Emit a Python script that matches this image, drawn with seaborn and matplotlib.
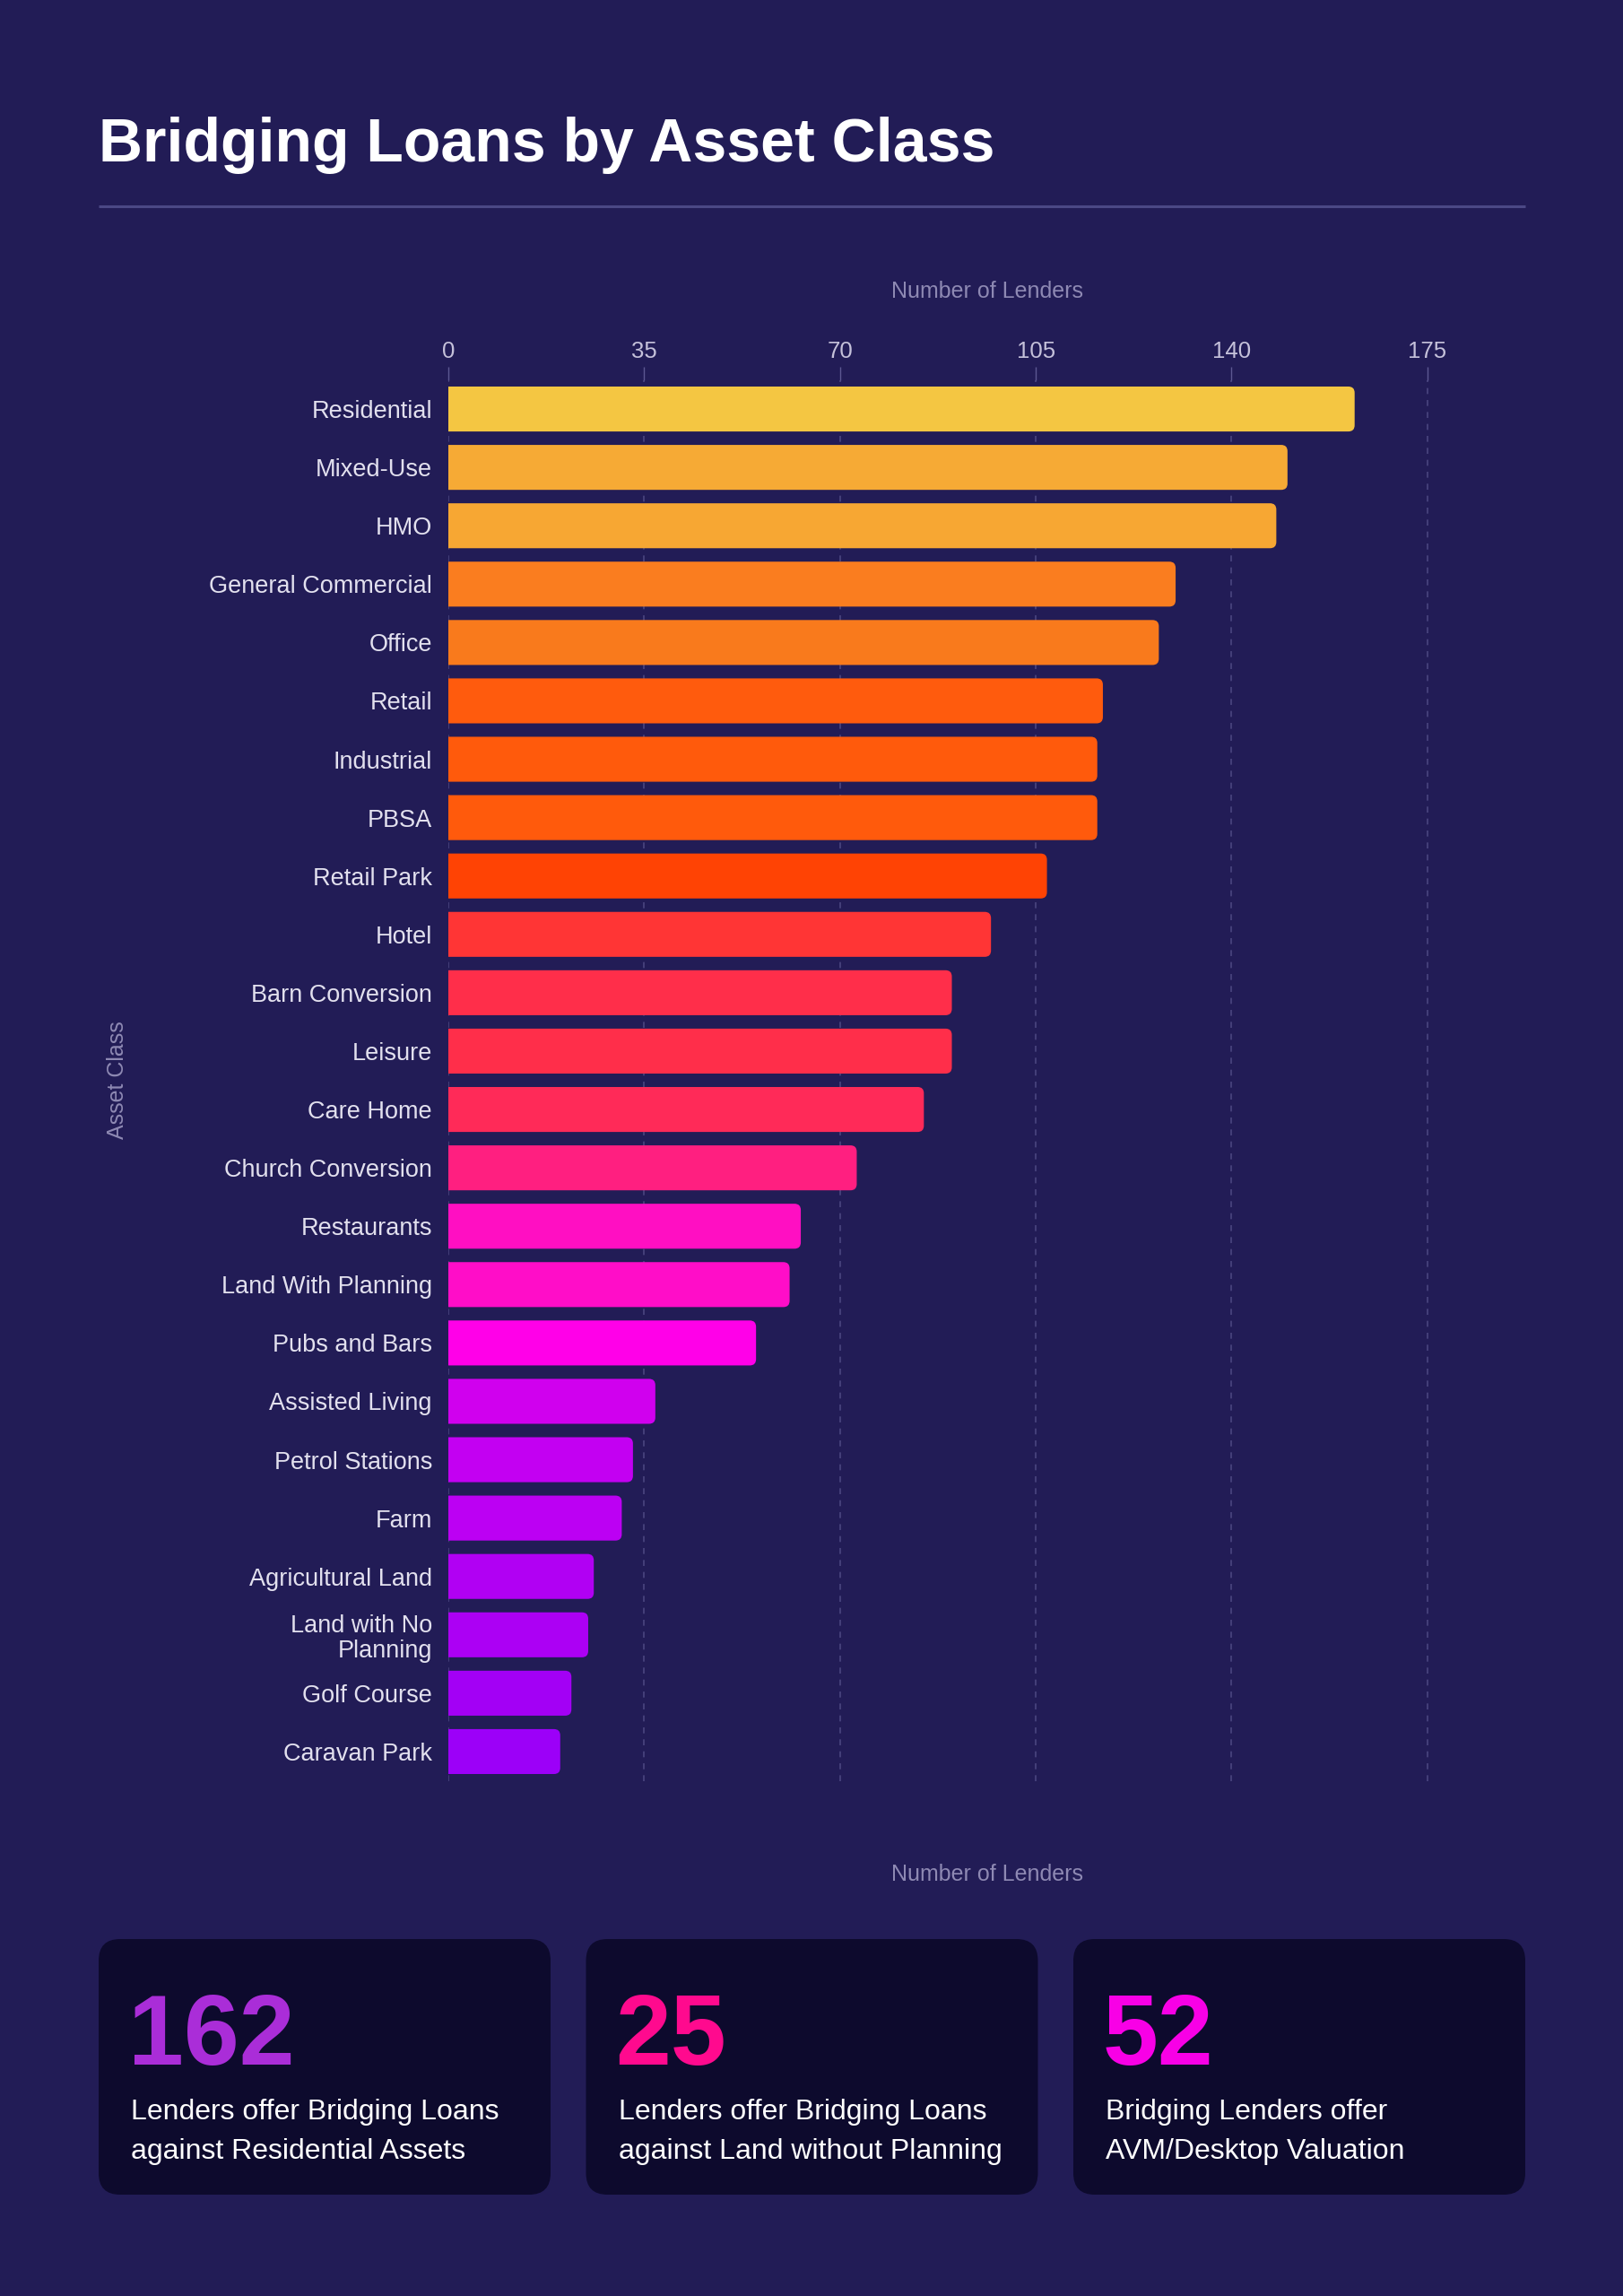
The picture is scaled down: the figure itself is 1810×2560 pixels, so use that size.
import numpy as np
import pandas as pd
import matplotlib
matplotlib.use("Agg")
import matplotlib.pyplot as plt
from matplotlib.patches import FancyBboxPatch
import seaborn as sns

# ---- data ----
asset_classes = ["Residential", "Mixed-Use", "HMO", "General Commercial", "Office",
                 "Retail", "Industrial", "PBSA", "Retail Park", "Hotel",
                 "Barn Conversion", "Leisure", "Care Home", "Church Conversion",
                 "Restaurants", "Land With Planning", "Pubs and Bars",
                 "Assisted Living", "Petrol Stations", "Farm", "Agricultural Land",
                 "Land with No Planning", "Golf Course", "Caravan Park"]
lenders = [162, 150, 148, 130, 127, 117, 116, 116, 107, 97,
           90, 90, 85, 73, 63, 61, 55, 37, 33, 31, 26, 25, 22, 20]
bar_colors = ["#F4C642", "#F6AA35", "#F7A733", "#FA7D1F", "#F97A1C",
              "#FF5B0D", "#FF5A0C", "#FF5A0C", "#FF4304", "#FF3535",
              "#FF2E4A", "#FF2E4A", "#FF2A58", "#FF1F80", "#FF0FC2",
              "#FF0DC8", "#FF00E8", "#D000EE", "#C300F2", "#BC00F3",
              "#B100F3", "#AC00F4", "#A300F5", "#9C00F8"]
x_ticks = [0, 35, 70, 105, 140, 175]
x_max = 192.5

card_numbers = ["162", "25", "52"]
card_number_colors = ["#AA2DD8", "#FF0A8E", "#F800E6"]
card_lines = [["Lenders offer Bridging Loans", "against Residential Assets"],
              ["Lenders offer Bridging Loans", "against Land without Planning"],
              ["Bridging Lenders offer", "AVM/Desktop Valuation"]]

label_wrap = {"Land with No Planning": "Land with No\nPlanning"}

# ---- style ----
bg_color = "#221C56"
card_color = "#0D0A2D"
grid_color = "#4A4680"
axis_title_color = "#8E89B3"

sns.set_theme(style="ticks",
              rc={"axes.facecolor": "none",
                  "figure.facecolor": bg_color,
                  "axes.edgecolor": bg_color,
                  "xtick.color": "#5C5892",
                  "ytick.color": bg_color})
plt.rcParams["font.family"] = ["Liberation Sans", "DejaVu Sans"]

W, H = 1810, 2560
fig = plt.figure(figsize=(W / 100, H / 100), dpi=100)

# pixel-space background layer for title, divider and cards
bg = fig.add_axes([0, 0, 1, 1], zorder=0)
bg.set_xlim(0, W)
bg.set_ylim(H, 0)
bg.axis("off")

bg.text(110, 180, "Bridging Loans by Asset Class", color="white",
        fontsize=49, fontweight="bold", va="baseline", ha="left")
bg.plot([110, 1701], [230, 230], color="#4B4885", lw=2.2, solid_capstyle="butt")

# main chart
ax_left, ax_right, ax_top, ax_bottom = 500, 1701, 423.5, 1985.5
ax = fig.add_axes([ax_left / W, 1 - ax_bottom / H,
                   (ax_right - ax_left) / W, (ax_bottom - ax_top) / H], zorder=1)

df = pd.DataFrame({"asset": asset_classes, "lenders": lenders})
sns.barplot(data=df, x="lenders", y="asset", hue="asset", palette=bar_colors,
            saturation=1, legend=False, orient="h", width=0.77, ax=ax, zorder=3)

ax.set_xlim(0, x_max)
ax.set_ylim(len(asset_classes) - 0.5, -0.5)

# round the right-hand corners of every bar; the left corners fall
# outside the axes (x < 0) and are clipped away
px_per_x = (ax_right - ax_left) / x_max
px_per_y = (ax_bottom - ax_top) / len(asset_classes)
radius_px = 7
r = radius_px / px_per_x
aspect = px_per_x / px_per_y
for p in list(ax.patches):
    x0, y0 = p.get_x(), p.get_y()
    w, h = p.get_width(), p.get_height()
    col = p.get_facecolor()
    p.remove()
    rb = FancyBboxPatch((x0 - 3 * r, y0), w + 3 * r, h,
                        boxstyle=f"round,pad=0,rounding_size={r}",
                        mutation_aspect=aspect, facecolor=col,
                        edgecolor="none", zorder=3)
    ax.add_patch(rb)
    rb.set_clip_path(ax.patch)

ax.xaxis.tick_top()
ax.set_xticks(x_ticks)
ax.set_xticklabels([str(t) for t in x_ticks])
ax.tick_params(axis="x", length=11, width=1, pad=3, labelsize=18.5,
               colors="#5C5892")
ax.tick_params(axis="x", labelcolor="#C5C1DA")
ax.tick_params(axis="y", length=0, pad=13, labelsize=19.5, labelcolor="#E2E0EE")
ax.set_yticks(range(len(asset_classes)))
ax.set_yticklabels([label_wrap.get(a, a) for a in asset_classes])
for lab in ax.get_yticklabels():
    lab.set_linespacing(1.1)

ax.xaxis.grid(True, color=grid_color, linestyle=(0, (4, 4)), linewidth=1.2, zorder=0)
ax.yaxis.grid(False)
ax.set_axisbelow(True)
for s in ax.spines.values():
    s.set_visible(False)
ax.set_xlabel("")
ax.set_ylabel("")

# axis titles
bg.text((ax_left + ax_right) / 2, 325, "Number of Lenders", color=axis_title_color,
        fontsize=18, ha="center", va="center")
bg.text((ax_left + ax_right) / 2, 2090, "Number of Lenders", color=axis_title_color,
        fontsize=18, ha="center", va="center")
bg.text(131, (ax_top + ax_bottom) / 2, "Asset Class", color=axis_title_color,
        fontsize=18, ha="center", va="center", rotation=90)

# stat cards
card_top, card_h, gap = 2162, 285, 39.5
card_w = (1701 - 110 - 2 * gap) / 3
for i, (num, ncol, lines) in enumerate(zip(card_numbers, card_number_colors, card_lines)):
    left = 110 + i * (card_w + gap)
    bg.add_patch(FancyBboxPatch((left, card_top), card_w, card_h,
                                boxstyle="round,pad=0,rounding_size=24",
                                facecolor=card_color, edgecolor="none"))
    bg.text(left + 33, 2302, num, color=ncol, fontsize=80, fontweight="bold",
            ha="left", va="baseline")
    for j, line in enumerate(lines):
        bg.text(left + 36, 2362.5 + j * 44.5, line, color="white", fontsize=23,
                ha="left", va="baseline")

fig.savefig("out.png", dpi=100, facecolor=bg_color)
